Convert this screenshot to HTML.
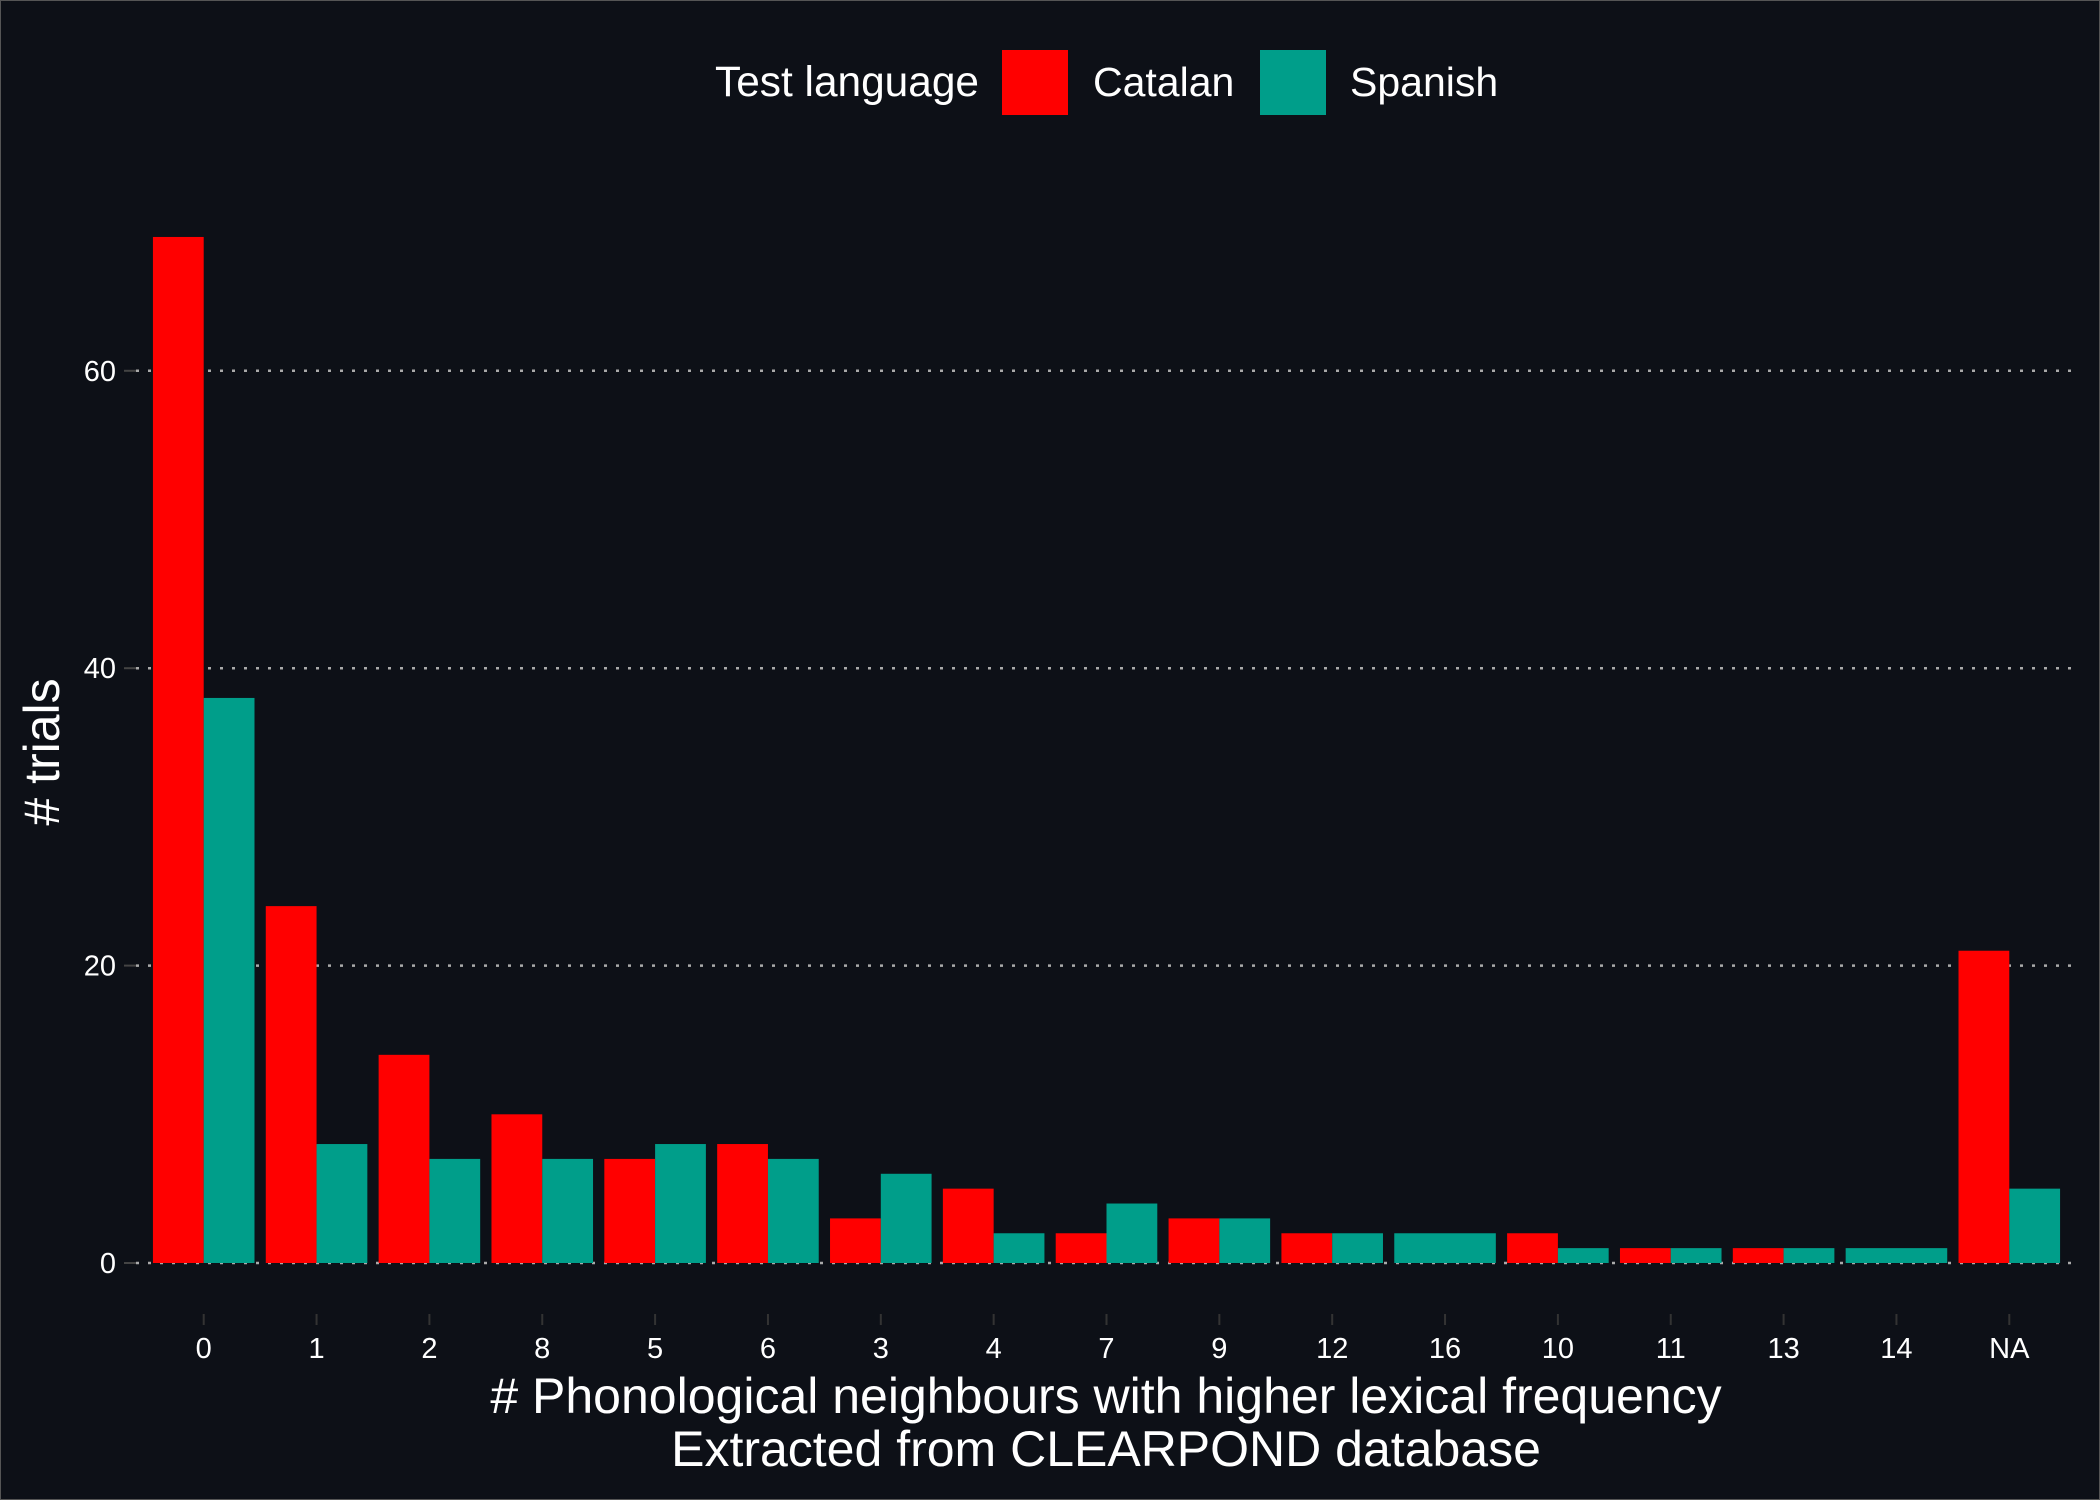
<!DOCTYPE html>
<html><head><meta charset="utf-8"><style>
html,body{margin:0;padding:0;background:#0d1017;}
svg{display:block;font-family:"Liberation Sans",Arial,sans-serif;}
</style></head><body>
<svg id="chart" width="2100" height="1500" viewBox="0 0 2100 1500" xmlns="http://www.w3.org/2000/svg">
<rect x="0.5" y="0.5" width="2099" height="1499" fill="#0d1017" stroke="#555" stroke-width="1"/>
<g id="grid"></g>
<g id="bars"></g>
<g id="axes"></g>
<text x="46" y="752" fill="#fff" font-size="50" text-anchor="middle" dominant-baseline="middle" transform="rotate(-90 46 752)"># trials</text>
<text x="1106" y="1413" fill="#fff" font-size="50" text-anchor="middle"># Phonological neighbours with higher lexical frequency</text>
<text x="1106" y="1466" fill="#fff" font-size="50" text-anchor="middle">Extracted from CLEARPOND database</text>
<g>
<text x="715" y="96" fill="#fff" font-size="42.4">Test language</text>
<rect x="1002" y="50" width="66" height="65" fill="#ff0000"/>
<text x="1093" y="96" fill="#fff" font-size="41">Catalan</text>
<rect x="1260" y="50" width="66" height="65" fill="#009e8a"/>
<text x="1350" y="96" fill="#fff" font-size="41">Spanish</text>
</g>
</svg>
<script>
const categories = ["0","1","2","8","5","6","3","4","7","9","12","16","10","11","13","14","NA"];
const catalan = [69,24,14,10,7,8,3,5,2,3,2,null,2,1,1,null,21];
const spanish = [38,8,7,7,8,7,6,2,4,3,2,2,1,1,1,1,5];
const yTicks = [0,20,40,60];

const NS = "http://www.w3.org/2000/svg";
const panelL = 136, panelR = 2077, y0 = 1263, pxPerUnit = 14.87;
const step = (panelR - panelL) / (categories.length - 1 + 1.2);
function xScale(i){ return panelL + step*0.6 + i*step; }
function yScale(v){ return y0 - v*pxPerUnit; }
const barW = step*0.45;

function mk(tag, attrs, parent){
  const e = document.createElementNS(NS, tag);
  for (const k in attrs) e.setAttribute(k, attrs[k]);
  parent.appendChild(e);
  return e;
}
const grid = document.getElementById('grid');
const bars = document.getElementById('bars');
const axes = document.getElementById('axes');

yTicks.forEach(t => {
  const y = yScale(t);
  const g = mk('line', {x1: panelL, x2: panelR, y1: y, y2: y, stroke: '#aaa', 'stroke-width': 2.5, 'stroke-dasharray': '3 9'}, grid);
  
  
  const tk = mk('line', {x1: 124, x2: 136, y1: y, y2: y, stroke: '#444', 'stroke-width': 2}, axes);
  
  
  const lb = mk('text', {x: 116, y: y + 10, fill: '#fff', 'font-size': 29, 'text-anchor': 'end'}, axes);
  lb.textContent = t;
  
  
});

categories.forEach((c, i) => {
  const cx = xScale(i);
  const cv = catalan[i], sv = spanish[i];
  if (cv != null && sv != null) {
    const r = mk('rect', {x: cx - barW, y: yScale(cv), width: barW, height: cv*pxPerUnit, fill: '#ff0000'}, bars);
    
    
    const s = mk('rect', {x: cx, y: yScale(sv), width: barW, height: sv*pxPerUnit, fill: '#009e8a'}, bars);
    
    
  } else if (sv != null) {
    const s = mk('rect', {x: cx - barW, y: yScale(sv), width: barW*2, height: sv*pxPerUnit, fill: '#009e8a'}, bars);
    
    
  } else if (cv != null) {
    const r = mk('rect', {x: cx - barW, y: yScale(cv), width: barW*2, height: cv*pxPerUnit, fill: '#ff0000'}, bars);
    
    
  }
  const tk = mk('line', {x1: cx, x2: cx, y1: 1314, y2: 1325, stroke: '#333', 'stroke-width': 2}, axes);
  
  
  const lb = mk('text', {x: cx, y: 1358, fill: '#fff', 'font-size': 29, 'text-anchor': 'middle'}, axes);
  lb.textContent = c;
  
  
});
</script>
</body></html>
